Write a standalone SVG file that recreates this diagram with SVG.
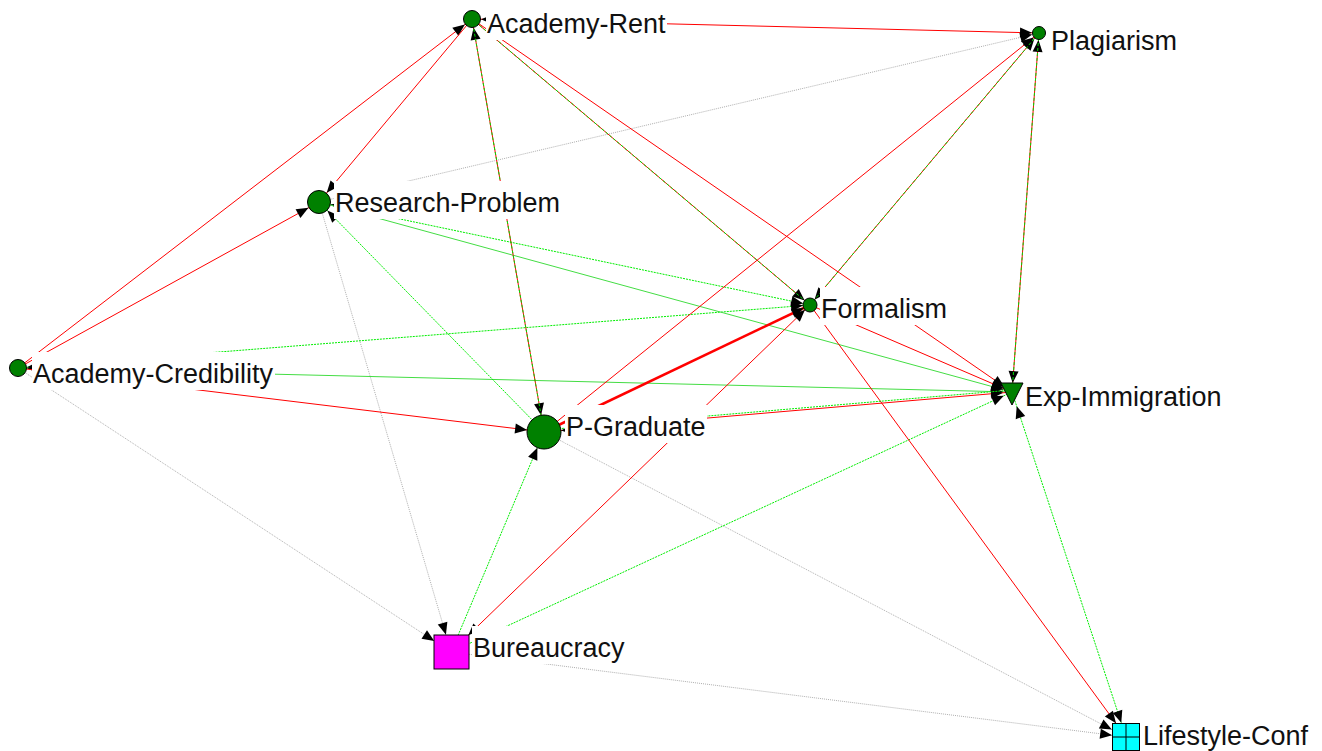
<svg xmlns="http://www.w3.org/2000/svg" width="1322" height="751" viewBox="0 0 1322 751">
<style>
.r{stroke:#ff0000;stroke-width:1;fill:none}
.rt{stroke:#ff0000;stroke-width:2.5;fill:none}
.g{stroke:#00ee00;stroke-width:1;stroke-dasharray:2 1;fill:none}
.gm{stroke:#00dd00;stroke-width:1;stroke-dasharray:3 2;fill:none}
.gs{stroke:#44dd44;stroke-width:1;fill:none}
.k{stroke:#b0b0b0;stroke-width:1;stroke-dasharray:1 1;fill:none}
.n{fill:#008000;stroke:#000;stroke-width:1}
.bg{fill:#fff}
.t{font-family:"Liberation Sans",Arial,sans-serif;font-size:27px;fill:#111}
marker path{fill:#000}
</style>
<defs>
<marker id="m7" markerUnits="userSpaceOnUse" markerWidth="12" markerHeight="10" refX="19" refY="5" orient="auto-start-reverse" overflow="visible"><path d="M0,0L12,5L0,10z"/></marker>
<marker id="m9" markerUnits="userSpaceOnUse" markerWidth="12" markerHeight="10" refX="21" refY="5" orient="auto-start-reverse" overflow="visible"><path d="M0,0L12,5L0,10z"/></marker>
<marker id="m12" markerUnits="userSpaceOnUse" markerWidth="12" markerHeight="10" refX="24" refY="5" orient="auto-start-reverse" overflow="visible"><path d="M0,0L12,5L0,10z"/></marker>
<marker id="m14" markerUnits="userSpaceOnUse" markerWidth="12" markerHeight="10" refX="26" refY="5" orient="auto-start-reverse" overflow="visible"><path d="M0,0L12,5L0,10z"/></marker>
<marker id="m15" markerUnits="userSpaceOnUse" markerWidth="12" markerHeight="10" refX="27" refY="5" orient="auto-start-reverse" overflow="visible"><path d="M0,0L12,5L0,10z"/></marker>
<marker id="m16" markerUnits="userSpaceOnUse" markerWidth="12" markerHeight="10" refX="28" refY="5" orient="auto-start-reverse" overflow="visible"><path d="M0,0L12,5L0,10z"/></marker>
<marker id="m17" markerUnits="userSpaceOnUse" markerWidth="12" markerHeight="10" refX="29" refY="5" orient="auto-start-reverse" overflow="visible"><path d="M0,0L12,5L0,10z"/></marker>
<marker id="m18" markerUnits="userSpaceOnUse" markerWidth="12" markerHeight="10" refX="30" refY="5" orient="auto-start-reverse" overflow="visible"><path d="M0,0L12,5L0,10z"/></marker>
<marker id="m20" markerUnits="userSpaceOnUse" markerWidth="12" markerHeight="10" refX="32" refY="5" orient="auto-start-reverse" overflow="visible"><path d="M0,0L12,5L0,10z"/></marker>
<marker id="m24" markerUnits="userSpaceOnUse" markerWidth="12" markerHeight="10" refX="36" refY="5" orient="auto-start-reverse" overflow="visible"><path d="M0,0L12,5L0,10z"/></marker>
</defs>
<rect width="1322" height="751" fill="#fff"/>
<g id="connectors">
<line class="k" x1="18" y1="368" x2="451" y2="652" marker-end="url(#m20)"/>
<line class="k" x1="319" y1="202" x2="451" y2="652" marker-end="url(#m18)"/>
<line class="k" x1="319" y1="202" x2="1039" y2="33" marker-end="url(#m7)"/>
<line class="k" x1="544" y1="432" x2="1126" y2="737" marker-end="url(#m16)"/>
<line class="k" x1="451" y1="652" x2="1126" y2="737" marker-end="url(#m14)"/>
<line class="g" x1="18" y1="368" x2="810" y2="305" marker-start="url(#m9)" marker-end="url(#m7)"/>
<line class="gs" x1="18" y1="368" x2="1012" y2="392" marker-start="url(#m9)" marker-end="url(#m9)"/>
<line class="g" x1="319" y1="202" x2="810" y2="305" marker-start="url(#m12)" marker-end="url(#m7)"/>
<line class="gs" x1="319" y1="202" x2="1012" y2="392" marker-end="url(#m9)"/>
<line class="g" x1="544" y1="432" x2="319" y2="202" marker-end="url(#m12)"/>
<line class="g" x1="1012" y1="392" x2="1126" y2="737" marker-start="url(#m15)" marker-end="url(#m15)"/>
<line class="g" x1="451" y1="652" x2="544" y2="432" marker-end="url(#m17)"/>
<line class="g" x1="451" y1="652" x2="1012" y2="392" marker-end="url(#m9)"/>
<line class="r" x1="472" y1="19" x2="1039" y2="33" marker-start="url(#m9)" marker-end="url(#m7)"/>
<line class="r" x1="18" y1="368" x2="472" y2="19" marker-end="url(#m9)"/>
<line class="r" x1="18" y1="368" x2="319" y2="202" marker-end="url(#m12)"/>
<line class="r" x1="472" y1="19" x2="319" y2="202" marker-end="url(#m12)"/>
<line class="r" x1="472" y1="19" x2="1012" y2="392" marker-end="url(#m9)"/>
<line class="r" x1="18" y1="368" x2="544" y2="432" marker-end="url(#m17)"/>
<line class="r" x1="544" y1="432" x2="1039" y2="33" marker-end="url(#m7)"/>
<line class="rt" x1="544" y1="432" x2="810" y2="305" marker-end="url(#m7)"/>
<line class="r" x1="451" y1="652" x2="810" y2="305" marker-start="url(#m24)" marker-end="url(#m7)"/>
<line class="r" x1="810" y1="305" x2="1012" y2="392" marker-end="url(#m9)"/>
<line class="r" x1="810" y1="305" x2="1126" y2="737" marker-end="url(#m17)"/>
<line class="r" x1="472" y1="19" x2="544" y2="432" marker-start="url(#m9)" marker-end="url(#m17)"/>
<line class="gm" x1="472" y1="19" x2="544" y2="432"/>
<line class="r" x1="472" y1="19" x2="810" y2="305" marker-end="url(#m7)"/>
<line class="gm" x1="472" y1="19" x2="810" y2="305"/>
<line class="r" x1="544" y1="432" x2="1012" y2="392" marker-start="url(#m17)" marker-end="url(#m9)"/>
<line class="g" x1="544" y1="430" x2="1012" y2="390"/>
<line class="r" x1="810" y1="305" x2="1039" y2="33" marker-start="url(#m7)" marker-end="url(#m7)"/>
<line class="gm" x1="810" y1="305" x2="1039" y2="33"/>
<line class="r" x1="1039" y1="33" x2="1012" y2="392" marker-start="url(#m7)" marker-end="url(#m9)"/>
<line class="gm" x1="1039" y1="33" x2="1012" y2="392"/>
</g>
<g id="node-academy-rent">
<circle class="n" cx="472" cy="19" r="8.5"/>
<rect class="bg" x="486" y="2" width="181" height="38"/>
<text class="t" x="487" y="33">Academy-Rent</text>
</g>
<g id="node-plagiarism">
<circle class="n" cx="1039" cy="33" r="6.5"/>
<rect class="bg" x="1050" y="19" width="129" height="38"/>
<text class="t" x="1051" y="50">Plagiarism</text>
</g>
<g id="node-research-problem">
<circle class="n" cx="319" cy="202" r="11.5"/>
<rect class="bg" x="334" y="181" width="228" height="38"/>
<text class="t" x="335" y="212">Research-Problem</text>
</g>
<g id="node-formalism">
<circle class="n" cx="810" cy="305" r="7"/>
<rect class="bg" x="820" y="287" width="129" height="38"/>
<text class="t" x="821" y="318">Formalism</text>
</g>
<g id="node-academy-credibility">
<circle class="n" cx="18" cy="368" r="8.5"/>
<rect class="bg" x="32" y="352" width="243" height="38"/>
<text class="t" x="33" y="383">Academy-Credibility</text>
</g>
<g id="node-exp-immigration">
<polygon class="n" points="1001,383 1023,383 1012,405"/>
<rect class="bg" x="1024" y="375" width="200" height="38"/>
<text class="t" x="1025" y="406">Exp-Immigration</text>
</g>
<g id="node-p-graduate">
<circle class="n" cx="544" cy="432" r="17"/>
<rect class="bg" x="565" y="405" width="142" height="38"/>
<text class="t" x="566" y="436">P-Graduate</text>
</g>
<g id="node-bureaucracy">
<rect x="434" y="635" width="35" height="34" fill="#ff00ff" stroke="#000" stroke-width="1"/>
<rect class="bg" x="472" y="626" width="154" height="38"/>
<text class="t" x="473" y="657">Bureaucracy</text>
</g>
<g id="node-lifestyle-conf">
<rect x="1112.5" y="723.5" width="27" height="27" fill="#00ffff" stroke="#000" stroke-width="1"/>
<path d="M1126,723.5V750.5M1112.5,737H1139.5" stroke="#000" stroke-width="1"/>
<rect class="bg" x="1142" y="714" width="168" height="37"/>
<text class="t" x="1143" y="745">Lifestyle-Conf</text>
</g>
</svg>
